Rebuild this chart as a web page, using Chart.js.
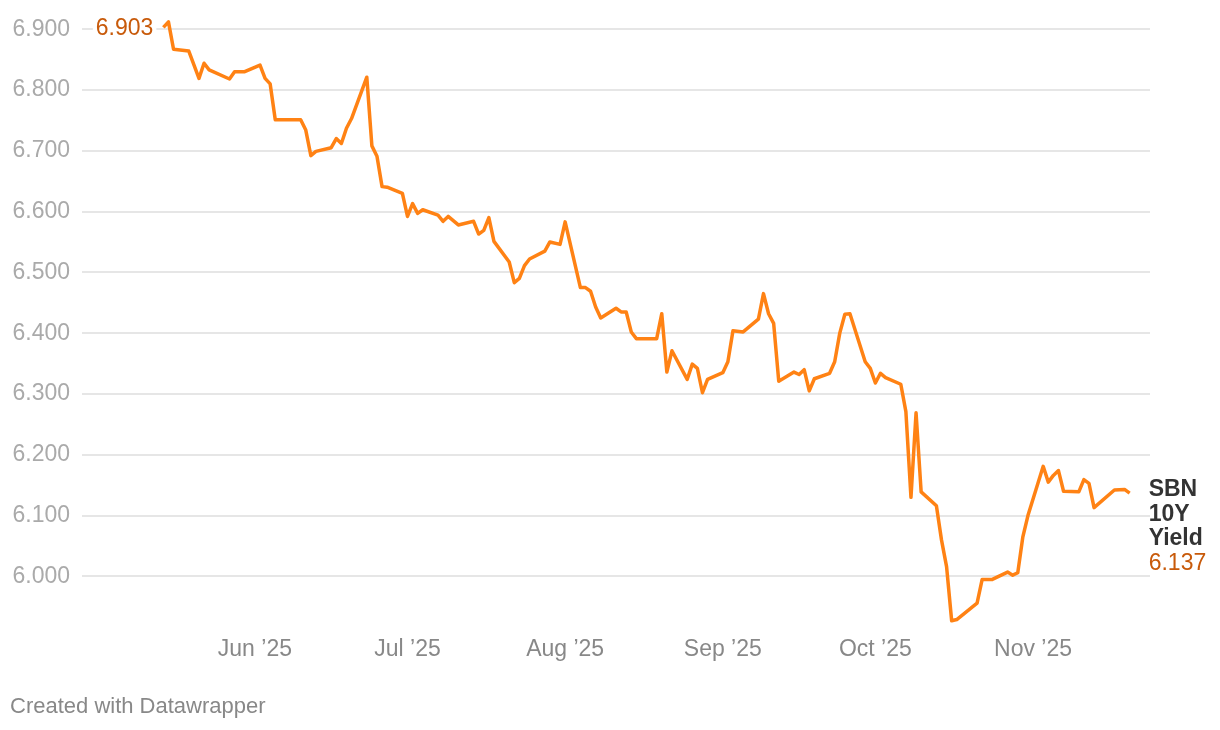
<!DOCTYPE html>
<html>
<head>
<meta charset="utf-8">
<title>SBN 10Y Yield</title>
<script src="https://cdn.jsdelivr.net/npm/chart.js@4.4.1/dist/chart.umd.min.js"></script>
<style>
  html, body { margin: 0; padding: 0; background: #fff; }
  #wrap { position: relative; width: 1220px; height: 730px; }
  #footer {
    position: absolute; left: 10px; top: 693px;
    font: 22px "Liberation Sans", Arial, sans-serif; color: #888;
  }
</style>
</head>
<body>
<div id="wrap">
  <canvas id="yieldChart" width="1220" height="730"></canvas>
  <div id="footer">Created with Datawrapper</div>
</div>
<script>
// datos (rendimiento SBN 10 años)
const dates = [
  '2025-05-14','2025-05-15','2025-05-16','2025-05-19','2025-05-21','2025-05-22','2025-05-23',
  '2025-05-27','2025-05-28','2025-05-30','2025-06-02','2025-06-03','2025-06-04','2025-06-05',
  '2025-06-10','2025-06-11','2025-06-12','2025-06-13','2025-06-16','2025-06-17','2025-06-18',
  '2025-06-19','2025-06-20','2025-06-23','2025-06-24','2025-06-25','2025-06-26','2025-06-27',
  '2025-06-30','2025-07-01','2025-07-02','2025-07-03','2025-07-04','2025-07-07','2025-07-08',
  '2025-07-09','2025-07-11','2025-07-14','2025-07-15','2025-07-16','2025-07-17','2025-07-18',
  '2025-07-21','2025-07-22','2025-07-23','2025-07-24','2025-07-25','2025-07-28','2025-07-29',
  '2025-07-31','2025-08-01','2025-08-04','2025-08-05','2025-08-06','2025-08-07','2025-08-08',
  '2025-08-11','2025-08-12','2025-08-13','2025-08-14','2025-08-15','2025-08-19','2025-08-20',
  '2025-08-21','2025-08-22','2025-08-25','2025-08-26','2025-08-27','2025-08-28','2025-08-29',
  '2025-09-01','2025-09-02','2025-09-03','2025-09-05','2025-09-08','2025-09-09','2025-09-10',
  '2025-09-11','2025-09-12','2025-09-15','2025-09-16','2025-09-17','2025-09-18','2025-09-19',
  '2025-09-22','2025-09-23','2025-09-24','2025-09-25','2025-09-26','2025-09-29','2025-09-30',
  '2025-10-01','2025-10-02','2025-10-03','2025-10-06','2025-10-07','2025-10-08','2025-10-09',
  '2025-10-10','2025-10-13','2025-10-14','2025-10-15','2025-10-16','2025-10-17','2025-10-21',
  '2025-10-22','2025-10-24','2025-10-27','2025-10-28','2025-10-29','2025-10-30','2025-10-31',
  '2025-11-03','2025-11-04','2025-11-05','2025-11-06','2025-11-07','2025-11-10','2025-11-11',
  '2025-11-12','2025-11-13','2025-11-17','2025-11-19','2025-11-20'
];
const yields = [
  6.903, 6.912, 6.867, 6.864, 6.819, 6.844, 6.833,
  6.818, 6.830, 6.830, 6.841, 6.819, 6.810, 6.751,
  6.751, 6.734, 6.692, 6.699, 6.705, 6.720, 6.712,
  6.737, 6.753, 6.821, 6.708, 6.691, 6.641, 6.640,
  6.630, 6.592, 6.613, 6.597, 6.603, 6.594, 6.584,
  6.592, 6.578, 6.584, 6.563, 6.569, 6.590, 6.551,
  6.517, 6.483, 6.490, 6.511, 6.522, 6.535, 6.550,
  6.546, 6.583, 6.475, 6.475, 6.469, 6.443, 6.425,
  6.441, 6.435, 6.435, 6.402, 6.391, 6.391, 6.432,
  6.336, 6.371, 6.324, 6.349, 6.342, 6.302, 6.324,
  6.335, 6.353, 6.404, 6.402, 6.423, 6.465, 6.432,
  6.416, 6.321, 6.336, 6.332, 6.340, 6.305, 6.325,
  6.334, 6.353, 6.400, 6.431, 6.432, 6.353, 6.342,
  6.318, 6.334, 6.327, 6.316, 6.271, 6.130, 6.269,
  6.139, 6.116, 6.060, 6.016, 5.927, 5.929, 5.956,
  5.995, 5.995, 6.007, 6.002, 6.006, 6.065, 6.100,
  6.181, 6.155, 6.166, 6.174, 6.140, 6.139, 6.159,
  6.153, 6.113, 6.142, 6.143, 6.137
];
const seriesName = ['SBN', '10Y', 'Yield'];

// eje X: inicio de cada mes y sus etiquetas
const monthStarts = ['2025-06-01','2025-07-01','2025-08-01','2025-09-01','2025-10-01','2025-11-01'];
const monthLabels = ['Jun \u201925','Jul \u201925','Aug \u201925','Sep \u201925','Oct \u201925','Nov \u201925'];
const xRange = ['2025-04-28', '2025-11-24'];

// eje Y
const yTicks = [6.0, 6.1, 6.2, 6.3, 6.4, 6.5, 6.6, 6.7, 6.8, 6.9];
const yRange = [5.92, 6.92];

const DAY = 86400000;
const toDay = s => Date.parse(s + 'T00:00:00Z') / DAY;
const FONT = '"Liberation Sans", Arial, sans-serif';
const LINE = '#ff8214';
const LABEL = '#c85a0a';

// etiquetas al inicio y al final de la línea
const endLabels = {
  id: 'endLabels',
  afterDatasetsDraw(chart) {
    const c = chart.ctx;
    const pts = chart.getDatasetMeta(0).data;
    const first = pts[0];
    const last = pts[pts.length - 1];
    c.save();
    c.textBaseline = 'middle';

    c.font = '23px ' + FONT;
    const t0 = yields[0].toFixed(3);
    const w0 = c.measureText(t0).width;
    c.fillStyle = '#fff';
    c.fillRect(first.x - 10 - w0 - 3, first.y - 13, w0 + 6, 26);
    c.fillStyle = LABEL;
    c.textAlign = 'right';
    c.fillText(t0, first.x - 10, first.y + 1);

    c.textAlign = 'left';
    const lx = last.x + 19;
    const ly = last.y - 3;
    c.font = 'bold 23px ' + FONT;
    c.fillStyle = '#333';
    seriesName.forEach((line, i) => c.fillText(line, lx, ly + i * 24.5));
    c.font = '23px ' + FONT;
    c.fillStyle = LABEL;
    c.fillText(yields[yields.length - 1].toFixed(3), lx, ly + seriesName.length * 24.5);
    c.restore();
  }
};

const ctx = document.getElementById('yieldChart').getContext('2d');

const chart = new Chart(ctx, {
  type: 'line',
  data: {
    datasets: [{
      label: 'SBN 10Y Yield',
      data: dates.map((d, i) => ({ x: toDay(d), y: yields[i] })),
      borderColor: LINE,
      borderWidth: 3.5,
      borderJoinStyle: 'round',
      pointRadius: 0,
      tension: 0,
      fill: false
    }]
  },
  options: {
    responsive: false,
    animation: false,
    layout: { padding: { left: 10, right: 70, top: 17, bottom: 0 } },
    plugins: { legend: { display: false }, tooltip: { enabled: false } },
    scales: {
      x: {
        type: 'linear',
        min: toDay(xRange[0]),
        max: toDay(xRange[1]),
        grid: { display: false, drawTicks: false },
        border: { display: false },
        ticks: {
          autoSkip: false,
          maxRotation: 0,
          padding: 11,
          color: '#888',
          font: { family: FONT, size: 23 },
          callback: (v, i) => monthLabels[i]
        },
        afterBuildTicks: s => { s.ticks = monthStarts.map(m => ({ value: toDay(m) })); },
        afterFit: s => { s.height = 105; s.paddingLeft = 0; s.paddingRight = 0; }
      },
      y: {
        min: yRange[0],
        max: yRange[1],
        grid: { color: '#e6e6e6', lineWidth: 2, drawTicks: false },
        border: { display: false },
        ticks: {
          padding: 12,
          color: '#aaa',
          font: { family: FONT, size: 23 },
          callback: v => Number(v).toFixed(3)
        },
        afterBuildTicks: s => { s.ticks = yTicks.map(v => ({ value: v })); },
        afterFit: s => { s.width = 72; s.paddingTop = 0; s.paddingBottom = 0; }
      }
    }
  },
  plugins: [endLabels]
});
</script>
</body>
</html>
